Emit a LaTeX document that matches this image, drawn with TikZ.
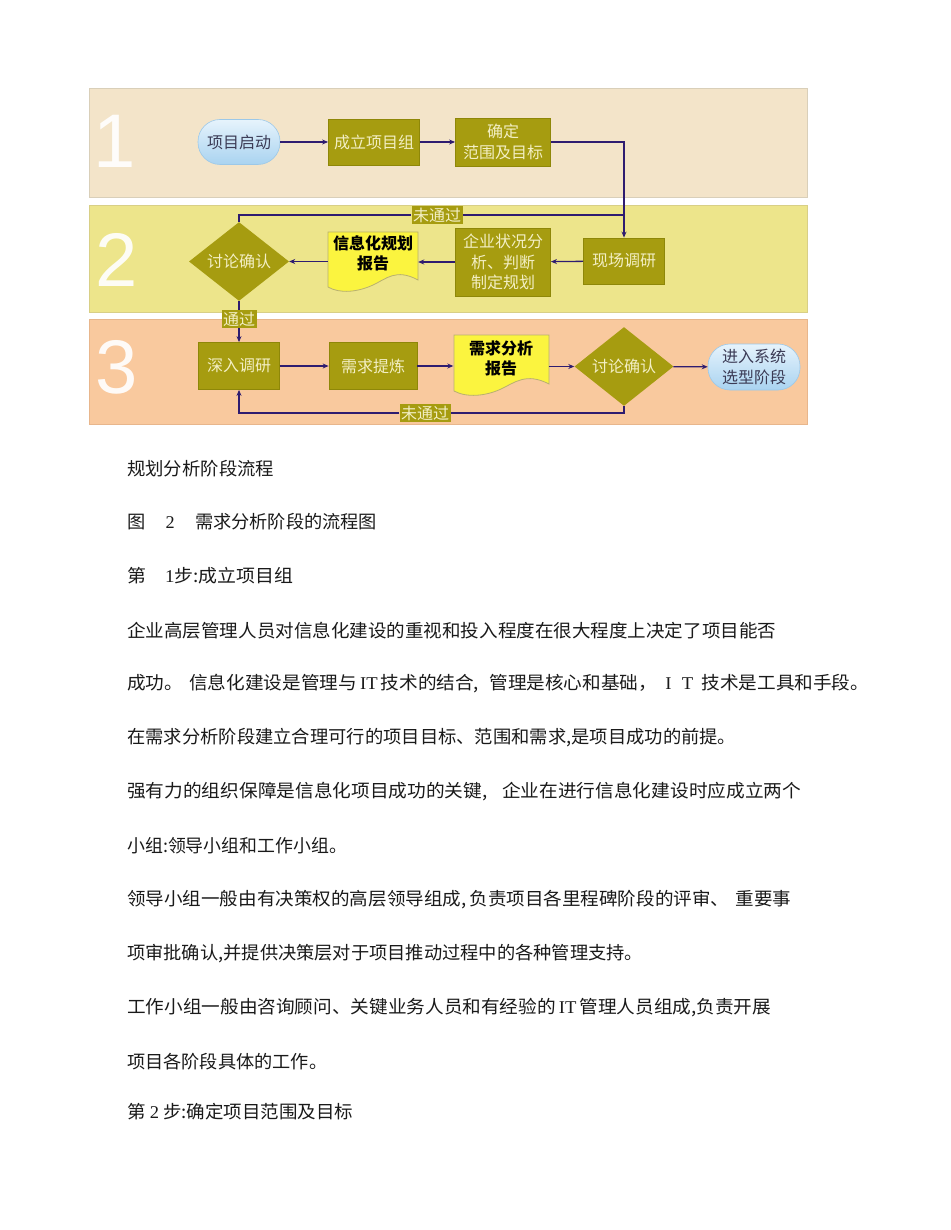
\documentclass[tikz,border=0pt]{standalone}
\usepackage{fontspec}
\usepackage{graphicx}
\setmainfont{Liberation Serif}
\newfontfamily\cjk{Noto Sans CJK SC}
\newfontfamily\lat{Liberation Serif}
\newfontfamily\digf{Liberation Sans}
\usetikzlibrary{shapes.geometric,arrows.meta,calc}

\definecolor{bandA}{HTML}{F3E4C9}
\definecolor{bandAb}{HTML}{D9CFB9}
\definecolor{bandB}{HTML}{EDE58B}
\definecolor{bandBb}{HTML}{D8CF86}
\definecolor{bandC}{HTML}{F9C99E}
\definecolor{bandCb}{HTML}{E8B68C}
\definecolor{olfill}{HTML}{A69C10}
\definecolor{olborder}{HTML}{8E8708}
\definecolor{oltext}{HTML}{F3EFC4}
\definecolor{lineblue}{HTML}{2E1C70}
\definecolor{docfill}{HTML}{FBF43F}
\definecolor{docline}{HTML}{B8B070}
\definecolor{pilltop}{HTML}{E6F3FC}
\definecolor{pillbot}{HTML}{A9D3F0}
\definecolor{pillborder}{HTML}{9CC8E8}
\definecolor{pilltext}{HTML}{3B3B55}
\definecolor{bodytext}{HTML}{1A1A1A}

\newcommand{\bodyline}[4]{%
  \node[anchor=west, inner sep=0pt, text=bodytext] (#1) at (127,#2)
    {\resizebox{#3pt}{\height}{\cjk\fontsize{18}{20}\selectfont #4}};}

\tikzset{
  conn/.style={draw=lineblue, line width=1.3pt},
  arr/.style={conn, -{Stealth[length=6pt,width=5pt]}},
  olbox/.style={draw=olborder, line width=0.8pt, fill=olfill, text=oltext, inner sep=0pt,
    align=center, font=\cjk\fontsize{16}{20.5}\selectfont},
  pill/.style={draw=pillborder, line width=0.6pt, top color=pilltop, bottom color=pillbot,
    rounded corners=22pt, text=pilltext, inner sep=0pt, align=center,
    font=\cjk\fontsize{16}{21}\selectfont},
  dec/.style={diamond, draw=none, fill=olfill, text=oltext, inner sep=0pt,
    minimum width=100pt, minimum height=67pt, font=\cjk\fontsize{16}{18}\selectfont},
  flag/.style={fill=olfill, text=oltext, inner sep=1.5pt, font=\cjk\fontsize{16}{17}\selectfont},
  band/.style={line width=1pt},
  bignum/.style={text=white, text opacity=0.92, font=\digf\fontsize{76}{80}\selectfont, inner sep=0pt},
  docbox/.style={draw=none, inner sep=0pt},
  doctext/.style={text=black, inner sep=0pt, align=center, font=\cjk\bfseries\fontsize{16}{20}\selectfont},
  docshape/.style={draw=docline, line width=0.8pt, fill=docfill},
}

\begin{document}
\begin{tikzpicture}[x=1pt, y=-1pt]
\useasboundingbox (0,0) rectangle (950,1230);
\fill[white] (0,0) rectangle (950,1230);

% bands
\filldraw[band, fill=bandA, draw=bandAb] (89,89) rectangle (807,198);
\filldraw[band, fill=bandB, draw=bandBb] (89,206) rectangle (807,312);
\filldraw[band, fill=bandC, draw=bandCb] (89,319) rectangle (807,424);

\node[bignum] (num1) at (115,141) {1};
\node[bignum] (num2) at (117,260) {2};
\node[bignum] (num3) at (117,367) {3};

% band 1
\node[pill, minimum width=82pt, minimum height=45pt] (start) at (239,142) {项目启动};
\node[olbox, minimum width=91pt, minimum height=46pt] (team) at (374,142) {成立项目组};
\node[olbox, minimum width=95pt, minimum height=48pt] (scope) at (503,142) {确定\\范围及目标};

% band 2
\node[olbox, minimum width=81pt, minimum height=46pt] (survey) at (624,261) {现场调研};
\node[olbox, minimum width=95pt, minimum height=68pt] (analyze) at (503,262) {企业状况分\\析、判断\\制定规划};
\node[docbox, minimum width=90pt, minimum height=58pt] (rep1) at (373,261) {};
\filldraw[docshape] (328,232) -- (418,232) -- (418,280)
  .. controls (396,268) and (386,279) .. (373,285)
  .. controls (358,292) and (340,294) .. (328,287) -- cycle;
\node[doctext] (rep1t) at (373,253) {信息化规划\\报告};
\node[dec] (disc1) at (239,261.5) {讨论确认};

% band 3
\node[olbox, minimum width=81pt, minimum height=47pt] (deep) at (239,366) {深入调研};
\node[olbox, minimum width=88pt, minimum height=47pt] (refine) at (373,366) {需求提炼};
\node[docbox, minimum width=95pt, minimum height=58pt] (rep2) at (501,364) {};
\filldraw[docshape] (454,335) -- (549,335) -- (549,384)
  .. controls (526,372) and (514,383) .. (501,389)
  .. controls (486,396) and (467,398) .. (454,391) -- cycle;
\node[doctext] (rep2t) at (501,358) {需求分析\\报告};
\node[dec, minimum width=99pt] (disc2) at (624,366.5) {讨论确认};
\node[pill, minimum width=92pt, minimum height=46pt] (next) at (754,367) {进入系统\\选型阶段};

% flags
\node[flag] (nopass1) at (437,215) {未通过};
\node[flag] (pass1) at (239,319) {通过};
\node[flag] (nopass2) at (425,413) {未通过};

% connectors band 1
\draw[arr] (start) -- (team);
\draw[arr] (team) -- (scope);
\draw[arr] (scope.east) -| (survey.north);

% band 2
\draw[arr] (survey) -- (analyze);
\draw[arr] (analyze.west) -- (rep1.east |- analyze.west);
\draw[arr] (rep1.west |- disc1.east) -- (disc1.east);
\draw[conn] (disc1.north) |- (nopass1.west);
\draw[conn] (nopass1.east) -- (nopass1.east -| survey.north);
\draw[conn] (disc1.south) -- (pass1.north);
\draw[arr] (pass1.south) -- (deep.north);

% band 3
\draw[arr] (deep) -- (refine);
\draw[arr] (refine.east) -- (rep2.west |- refine.east);
\draw[arr] (rep2.east |- disc2.west) -- (disc2.west);
\draw[arr] (disc2) -- (next);
\draw[conn] (disc2.south) |- (nopass2.east);
\draw[arr] (nopass2.west) -| (deep.south);

% body text
\bodyline{t1}{469}{147}{规划分析阶段流程}
\bodyline{t2}{522}{250}{图\hspace{20pt}{\lat 2}\hspace{20pt}需求分析阶段的流程图}
\bodyline{t3}{576}{166}{第\hspace{18pt}{\lat 1}步:成立项目组}
\bodyline{t4}{631}{649}{企业高层管理人员对信息化建设的重视和投入程度在很大程度上决定了项目能否}
\bodyline{t5}{684}{742}{成功。\hspace{6pt}信息化建设是管理与\hspace{3pt}{\lat IT}\hspace{3pt}技术的结合,\hspace{10pt}管理是核心和基础，\hspace{8pt}{\lat I\hspace{10pt}T}\hspace{8pt}技术是工具和手段。}
\bodyline{t6}{738}{609}{在需求分析阶段建立合理可行的项目目标、范围和需求,是项目成功的前提。}
\bodyline{t7}{792}{674}{强有力的组织保障是信息化项目成功的关键,\hspace{14pt}企业在进行信息化建设时应成立两个}
\bodyline{t8}{846}{220}{小组:领导小组和工作小组。}
\bodyline{t9}{900}{664}{领导小组一般由有决策权的高层领导组成,\hspace{3pt}负责项目各里程碑阶段的评审、\hspace{6pt}重要事}
\bodyline{t10}{954}{516}{项审批确认,并提供决策层对于项目推动过程中的各种管理支持。}
\bodyline{t11}{1008}{644}{工作小组一般由咨询顾问、关键业务人员和有经验的\hspace{3pt}{\lat IT}\hspace{3pt}管理人员组成,负责开展}
\bodyline{t12}{1062}{200}{项目各阶段具体的工作。}
\bodyline{t13}{1112}{226}{第\hspace{4pt}{\lat 2}\hspace{4pt}步:确定项目范围及目标}
\end{tikzpicture}
\end{document}
